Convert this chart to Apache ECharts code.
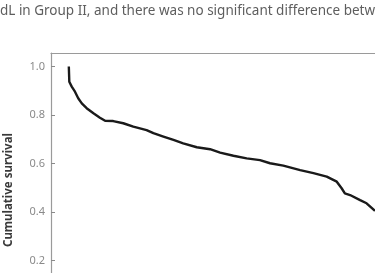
<!DOCTYPE html>
<html>
<head>
<meta charset="utf-8">
<script src="https://cdn.jsdelivr.net/npm/echarts@6/dist/echarts.min.js"></script>
<style>
  html, body { margin: 0; padding: 0; background: #fff; }
  #chart { width: 375px; height: 273px; }
</style>
</head>
<body>
<div id="chart"></div>
<script>
// text line above the figure (cut off in the source)
const captionText = 'dL in Group II, and there was no significant difference betw'
const yAxisTitle = 'Cumulative survival'

// follow-up time (arbitrary units) and cumulative survival
const times = [0, 0.15, 0.9, 1.9, 2.9, 4.0, 5.5, 7.6, 9.6, 11.2, 13.7, 16.8, 19.9, 24.0, 26.1, 29.2,
  32.3, 35.3, 39.5, 43.6, 46.7, 50.8, 54.9, 59.0, 62.1, 66.2, 71.4, 75.5, 79.6, 82.7, 84.2,
  85.2, 86.8, 89.9, 91.9, 94.5]
const survival = [1.0, 0.937, 0.917, 0.896, 0.869, 0.848, 0.828, 0.807, 0.789, 0.776, 0.775, 0.766,
  0.752, 0.738, 0.725, 0.711, 0.697, 0.683, 0.667, 0.659, 0.645, 0.632, 0.621, 0.614, 0.601,
  0.591, 0.573, 0.560, 0.546, 0.525, 0.498, 0.477, 0.470, 0.449, 0.436, 0.405]

const chart = echarts.init(document.getElementById('chart'))

const option = {
  animation: false,
  textStyle: { fontFamily: 'Noto Sans' },
  grid: { left: 51, right: 0, top: 53, bottom: -36, outerBoundsMode: 'none', containLabel: false },
  xAxis: {
    type: 'value',
    position: 'top',
    min: -5.5,
    max: 94.5,
    axisLine: { show: true, onZero: false, lineStyle: { color: '#9a9a9a', width: 1.2 } },
    axisTick: { show: false },
    axisLabel: { show: false },
    splitLine: { show: false }
  },
  yAxis: {
    type: 'value',
    min: 0,
    max: 1.0557,
    interval: 0.2,
    axisLine: { show: true, onZero: false, lineStyle: { color: '#9a9a9a', width: 1.2 } },
    axisTick: { show: true, inside: true, length: 4, lineStyle: { color: '#8a8a8a' } },
    axisLabel: {
      showMaxLabel: false,
      showMinLabel: false,
      color: '#8a8a8a',
      fontSize: 11,
      margin: 6,
      formatter: (v) => v.toFixed(1)
    },
    splitLine: { show: false }
  },
  series: [{
    type: 'line',
    data: times.map((t, i) => [t, survival[i]]),
    showSymbol: false,
    symbol: 'none',
    lineStyle: { color: '#1a1a1a', width: 2.4 }
  }],
  graphic: [
    {
      type: 'text',
      left: 0,
      top: 4,
      style: { text: captionText, fill: '#5e5e5e', fontSize: 13.5, fontFamily: 'Noto Sans' }
    },
    {
      type: 'text',
      x: 9,
      y: 190,
      rotation: Math.PI / 2,
      style: {
        text: yAxisTitle, fill: '#3a3a3a', fontSize: 11.5, fontWeight: 'bold',
        fontFamily: 'Noto Sans', align: 'center', verticalAlign: 'middle'
      }
    }
  ]
}

chart.setOption(option)
</script>
</body>
</html>
